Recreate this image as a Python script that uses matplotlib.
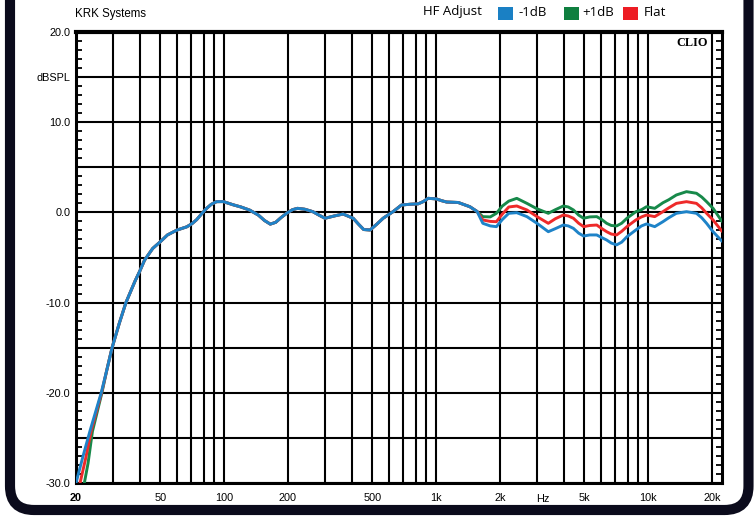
import matplotlib.pyplot as plt
from matplotlib.patches import FancyBboxPatch, Rectangle
from matplotlib.transforms import IdentityTransform, blended_transform_factory

plt.rcParams['font.family'] = ['Liberation Sans', 'DejaVu Sans']

W, H = 755, 518

# shared part of the response (all three settings overlap here)
mid_freq = [28.0, 29.6, 32, 34.4, 38, 40, 42.1, 46, 50, 54, 60, 66.6, 70.5, 74.2,
            78, 82.6, 87, 92, 99, 110, 120, 132, 145, 155, 165, 175, 186, 197,
            210, 222, 240, 262, 280, 299, 330, 364, 406, 430, 455, 488, 525,
            562, 626, 686, 750, 822, 870, 916, 1000, 1060, 1120, 1270, 1442, 1560]
mid_db = [-17.4, -15.0, -12.3, -10.0, -7.6, -6.5, -5.3, -4.0, -3.25, -2.5, -1.95, -1.6, -1.25, -0.8,
          -0.2, 0.45, 0.9, 1.19, 1.2, 0.85, 0.6, 0.25, -0.3, -0.9, -1.3, -1.1, -0.55, -0.1,
          0.3, 0.45, 0.35, 0.08, -0.3, -0.65, -0.4, -0.18, -0.65, -1.3, -1.9, -1.95, -1.3,
          -0.65, 0.08, 0.82, 0.9, 0.95, 1.2, 1.56, 1.5, 1.3, 1.15, 1.1, 0.63, 0.1]

# low end (slightly different per setting)
low_freq_minus = [20, 21.6, 23.3, 26.3]
low_db_minus = [-30, -27.0, -24.2, -20]
low_freq_flat = [20.9, 22.2, 23.6, 26.4]
low_db_flat = [-30, -27.3, -24.2, -20]
low_freq_plus = [21.9, 22.8, 23.9, 26.5]
low_db_plus = [-30, -27.8, -24.3, -20]

# high end, where the HF Adjust switch matters
hf_freq = [1660, 1800, 1924, 2050, 2200, 2400, 2680, 2990, 3380, 3650, 3980, 4200,
           4440, 4700, 4960, 5300, 5720, 6050, 6370, 6700, 7100, 7500, 7940, 8750,
           9300, 9820, 10740, 11740, 12500, 13580, 15160, 16900, 17900, 18860, 20240, 22300]
hf_plus = [-0.47, -0.5, -0.1, 0.7, 1.25, 1.56, 1.0, 0.4, -0.1, 0.3, 0.71, 0.6,
           0.27, -0.3, -0.65, -0.5, -0.47, -0.8, -1.21, -1.45, -1.5, -1.2, -0.65, 0.08,
           0.3, 0.63, 0.45, 1.07, 1.4, 1.93, 2.3, 2.12, 1.7, 1.19, 0.45, -1.0]
hf_flat = [-0.84, -1.0, -1.03, -0.2, 0.6, 0.71, 0.27, -0.47, -1.21, -0.7, -0.29, -0.4,
           -0.65, -1.2, -1.58, -1.45, -1.4, -1.8, -2.14, -2.4, -2.5, -2.1, -1.58, -0.84,
           -0.5, -0.29, -0.47, 0.08, 0.5, 1.0, 1.19, 1.0, 0.5, -0.1, -0.84, -2.1]
hf_minus = [-1.21, -1.5, -1.58, -0.8, -0.1, -0.03, -0.47, -1.21, -2.14, -1.8, -1.4, -1.5,
            -1.77, -2.3, -2.62, -2.5, -2.5, -2.8, -3.06, -3.4, -3.6, -3.3, -2.7, -1.95,
            -1.5, -1.28, -1.58, -1.03, -0.6, -0.1, 0.08, -0.1, -0.6, -1.21, -2.14, -3.2]

grid_freqs = [20, 30, 40, 50, 60, 70, 80, 90, 100, 200, 300, 400, 500, 600, 700, 800, 900,
              1000, 2000, 3000, 4000, 5000, 6000, 7000, 8000, 9000, 10000, 20000]
freq_labels = {20: '20', 50: '50', 100: '100', 200: '200', 500: '500', 1000: '1k',
               2000: '2k', 5000: '5k', 10000: '10k', 20000: '20k'}
db_ticks = [-30, -25, -20, -15, -10, -5, 0, 5, 10, 15, 20]
db_labels = ['-30.0', '', '-20.0', '', '-10.0', '', '0.0', '', '10.0', 'dBSPL', '20.0']

series = [
    ('+1dB', low_freq_plus + mid_freq + hf_freq, low_db_plus + mid_db + hf_plus, '#17894a', '#0f7f3f'),
    ('Flat', low_freq_flat + mid_freq + hf_freq, low_db_flat + mid_db + hf_flat, '#ee2a2a', '#ed1c24'),
    ('-1dB', low_freq_minus + mid_freq + hf_freq, low_db_minus + mid_db + hf_minus, '#1e83c8', '#1a80c4'),
]


def fx(x):
    return x / W


def fy(y):
    return 1 - y / H


fig = plt.figure(figsize=(W / 100, H / 100), dpi=100)
fig.patch.set_facecolor('white')

# dark rounded frame around the whole thing
frame = FancyBboxPatch((10, 8), 738.5, 545, boxstyle='round,pad=0,rounding_size=24',
                       transform=IdentityTransform(), facecolor='white',
                       edgecolor='#0b0b1c', linewidth=7.3, zorder=-5)
fig.add_artist(frame)

ax = fig.add_axes([fx(76), fy(483), fx(722) - fx(76), fy(32) - fy(483)])
ax.set_facecolor('white')

for name, f, db, lc, _ in series:
    ax.plot(f, db, color=lc, linewidth=2.1, solid_capstyle='round', solid_joinstyle='round', zorder=3)

ax.set_xscale('log')
ax.set_xlim(20, 22300)
ax.set_ylim(-30, 20)

ax.set_xticks(grid_freqs)
ax.set_xticklabels([freq_labels.get(v, '') for v in grid_freqs])
ax.xaxis.set_minor_locator(plt.NullLocator())
ax.tick_params(axis='x', which='major', length=0, pad=7, labelsize=7.8)
for lab, v in zip(ax.get_xticklabels(), grid_freqs):
    if v == 20:
        lab.set_fontweight('bold')

ax.set_yticks(db_ticks)
ax.set_yticklabels(db_labels)
ax.set_yticks(range(-30, 21), minor=True)
ax.tick_params(axis='y', which='major', length=0, pad=4, labelsize=7.8)
ax.tick_params(axis='y', which='minor', length=4, width=1.3, direction='in',
               left=True, right=True, color='black')

ax.grid(True, which='major', color='black', linewidth=1.5)
ax.set_axisbelow(True)
for side in ['left', 'right', 'bottom']:
    ax.spines[side].set_linewidth(2.2)
ax.spines['top'].set_linewidth(3.0)

trans = blended_transform_factory(ax.transData, ax.transAxes)
ax.text(3200, -0.025, 'Hz', transform=trans, ha='center', va='top', fontsize=7.8)

ax.text(fx(708 - 76) * W / 646, 1 - (43 - 32) / 451, 'CLIO', transform=ax.transAxes,
        ha='right', va='center', fontsize=8.8, fontweight='bold', family='Liberation Serif')

fig.text(fx(75), fy(14), 'KRK Systems', ha='left', va='center', fontsize=8.3)

# legend row along the top
fig.text(fx(423), fy(12), 'HF Adjust', ha='left', va='center', fontsize=9.5, family='Open Sans')
legend_x = {'-1dB': (498, 518), '+1dB': (564, 582), 'Flat': (623, 644)}
for name, f, db, _, bc in series:
    bx, tx = legend_x[name]
    fig.add_artist(Rectangle((fx(bx), fy(20)), fx(15), 13 / H, transform=fig.transFigure,
                             facecolor=bc, edgecolor='none'))
    fig.text(fx(tx), fy(12), name, ha='left', va='center', fontsize=9.5, family='Open Sans')

fig.savefig('out.png', dpi=100)
